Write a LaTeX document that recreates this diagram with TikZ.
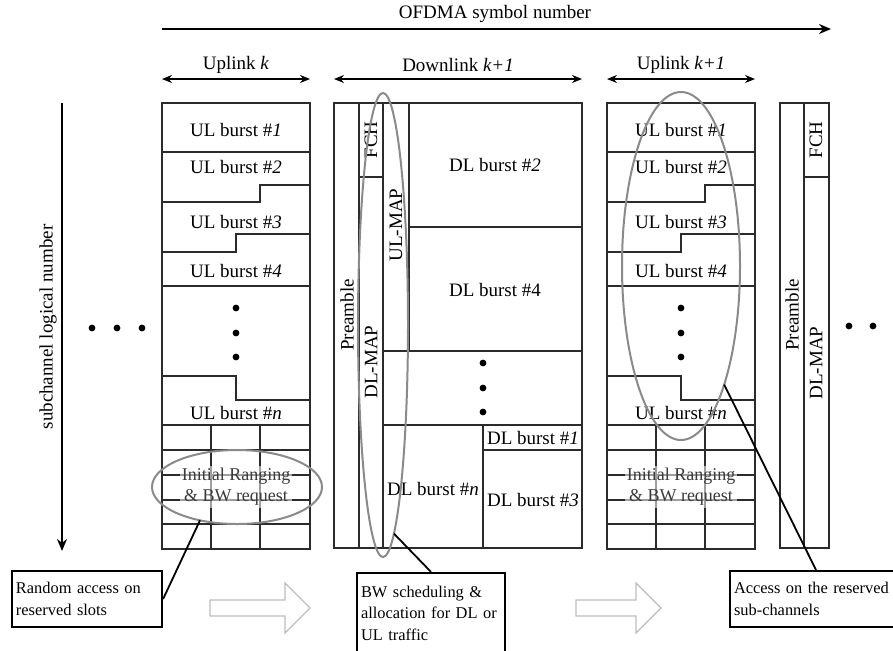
\documentclass[tikz,border=0pt]{standalone}
\usepackage{fontspec}
\setmainfont{Liberation Serif}
\usetikzlibrary{arrows.meta, shapes.geometric}
\definecolor{cline}{HTML}{2B2B2B}
\definecolor{cgrey}{HTML}{8A8A8A}
\definecolor{clight}{HTML}{BDBDBD}
\definecolor{ctext}{HTML}{3A3A3A}
\tikzset{
  every picture/.style={line width=0.65pt},
  lbl/.style={font=\fontsize{9.5}{11}\selectfont, inner sep=1pt},
  vlbl/.style={lbl, rotate=90},
  dot/.style={circle, fill=black, inner sep=0pt, minimum size=3.4pt},
  hilite/.style={ellipse, draw=cgrey, line width=1pt, inner sep=0pt, outer sep=0pt},
  callout/.style={draw, line width=1.1pt, align=left, font=\fontsize{8.2}{10.8}\selectfont,
    inner xsep=2pt, inner ysep=2pt},
  callline/.style={line width=0.9pt},
  span/.style={{Stealth[length=5pt, width=4pt]}-{Stealth[length=5pt, width=4pt]}, line width=0.6pt},
  axis/.style={-{Stealth[length=6pt, width=5pt]}, line width=0.8pt},
  hollow/.style={draw=clight, line width=0.6pt},
  ranging/.style={lbl, fill=white, fill opacity=0.55, text opacity=1, text=ctext,
    font=\fontsize{9}{10.5}\selectfont, align=center},
}
% one uplink sub-frame; #1 = shift in px, #2 = node name prefix
\newcommand{\ulframe}[2]{%
  \begin{scope}[shift={(#1,0)}, draw=cline]
    \draw (162,103) rectangle (310,549);
    \draw (162,152) -- (310,152);
    \draw (162,202) -- (260,202) -- (260,185) -- (310,185);
    \draw (162,252) -- (236,252) -- (236,234) -- (310,234);
    \draw (162,286) -- (310,286);
    \draw (162,376) -- (236,376) -- (236,400) -- (310,400);
    \foreach \y in {425,450,475,500,524} \draw (162,\y) -- (310,\y);
    \foreach \x in {211,260} \draw (\x,425) -- (\x,549);
    \node[lbl] (#2b1) at (236,130) {UL burst \#\textit{1}};
    \node[lbl] (#2b2) at (236,167) {UL burst \#\textit{2}};
    \node[lbl] (#2b3) at (236,222) {UL burst \#\textit{3}};
    \node[lbl] (#2b4) at (236,271) {UL burst \#\textit{4}};
    \foreach \y [count=\i] in {308,333,357} \node[dot] (#2d\i) at (236,\y) {};
    \node[lbl] (#2bn) at (236,413) {UL burst \#\textit{n}};
    \node[ranging] (#2rng) at (236,487) {Initial Ranging\\\& BW request};
  \end{scope}}

\begin{document}
\begin{tikzpicture}[x=0.5pt, y=-0.5pt]
  \useasboundingbox (0,0) rectangle (893,650);
  \clip (0,0) rectangle (893,650);

  % axes
  \coordinate (t0) at (162,29);
  \coordinate (t1) at (831,29);
  \draw[axis] (t0) -- (t1);
  \node[lbl] (tlabel) at (495,14) {OFDMA symbol number};
  \coordinate (s0) at (62,103);
  \coordinate (s1) at (62,551);
  \draw[axis] (s0) -- (s1);
  \node[vlbl] (slabel) at (48,327) {subchannel logical number};
  \foreach \x [count=\i] in {92,117,142} \node[dot] (ldot\i) at (\x,328) {};

  % sub-frame spans
  \coordinate (ua0) at (162,79);  \coordinate (ua1) at (310,79);
  \coordinate (da0) at (334,79);  \coordinate (da1) at (582,79);
  \coordinate (ub0) at (607,79);  \coordinate (ub1) at (755,79);
  \draw[span] (ua0) -- (ua1);
  \draw[span] (da0) -- (da1);
  \draw[span] (ub0) -- (ub1);
  \node[lbl] (ualbl) at (236,65) {Uplink \textit{k}};
  \node[lbl] (dalbl) at (458,65) {Downlink \textit{k+1}};
  \node[lbl] (ublbl) at (681,65) {Uplink \textit{k+1}};

  % uplink k and uplink k+1
  \ulframe{0}{ua}
  \ulframe{445}{ub}

  % downlink k+1
  \begin{scope}[draw=cline]
    \draw (334,103) rectangle (582,548);
    \draw (359,103) -- (359,548);
    \draw (383,103) -- (383,548);
    \draw (409,103) -- (409,351);
    \draw (359,177) -- (383,177);
    \draw (409,227) -- (582,227);
    \draw (383,351) -- (582,351);
    \draw (383,425) -- (582,425);
    \draw (483,425) -- (483,548);
    \draw (483,450) -- (582,450);
  \end{scope}
  \node[vlbl] (dpre) at (347,315) {Preamble};
  \node[vlbl] (dfch) at (371,140) {FCH};
  \node[vlbl] (ddlmap) at (371,362) {DL-MAP};
  \node[vlbl] (dulmap) at (396,225) {UL-MAP};
  \node[lbl] (db2) at (495,165) {DL burst \#\textit{2}};
  \node[lbl] (db4) at (495,290) {DL burst \#4};
  \foreach \y [count=\i] in {363,388,412} \node[dot] (dd\i) at (483,\y) {};
  \node[lbl] (dbn) at (433,489) {DL burst \#\textit{n}};
  \node[lbl] (db1) at (533,438) {DL burst \#\textit{1}};
  \node[lbl] (db3) at (533,500) {DL burst \#\textit{3}};

  % next downlink, cut off
  \begin{scope}[draw=cline]
    \draw (780,103) rectangle (829,548);
    \draw (804,103) -- (804,548);
    \draw (804,177) -- (829,177);
  \end{scope}
  \node[vlbl] (npre) at (792,315) {Preamble};
  \node[vlbl] (nfch) at (816,140) {FCH};
  \node[vlbl] (ndlmap) at (816,363) {DL-MAP};
  \foreach \x [count=\i] in {849,873} \node[dot] (rdot\i) at (\x,326) {};

  % highlighted regions
  \node[hilite, minimum width=85pt, minimum height=37pt] (rangell) at (237,487) {};
  \node[hilite, minimum width=25pt, minimum height=232pt] (mapell) at (383,325) {};
  \node[hilite, minimum width=59pt, minimum height=174pt] (accell) at (681,266) {};

  % call-outs
  \node[callout, minimum width=75pt, minimum height=28pt, text width=71pt] (randbox) at (87,599)
    {Random access on\\reserved slots};
  \node[callout, minimum width=74pt, minimum height=40pt, text width=70pt] (schedbox) at (431,613)
    {BW scheduling \&\\allocation for DL or\\UL traffic};
  \node[callout, minimum width=86pt, minimum height=28pt, text width=82pt] (accbox) at (816,599)
    {Access on the reserved\\sub-channels};
  \draw[callline] (rangell.222) -- (randbox.east);
  \draw[callline] (mapell.273) -- (schedbox.north);
  \draw[callline] (accell.290) -- (accbox.north);

  % flow arrows
  \draw[hollow] (210,600) -- (285,600) -- (285,583) -- (310,608) -- (285,633) -- (285,616) -- (210,616) -- cycle;
  \draw[hollow] (576,600) -- (636,600) -- (636,583) -- (661,608) -- (636,633) -- (636,616) -- (576,616) -- cycle;
\end{tikzpicture}
\end{document}
